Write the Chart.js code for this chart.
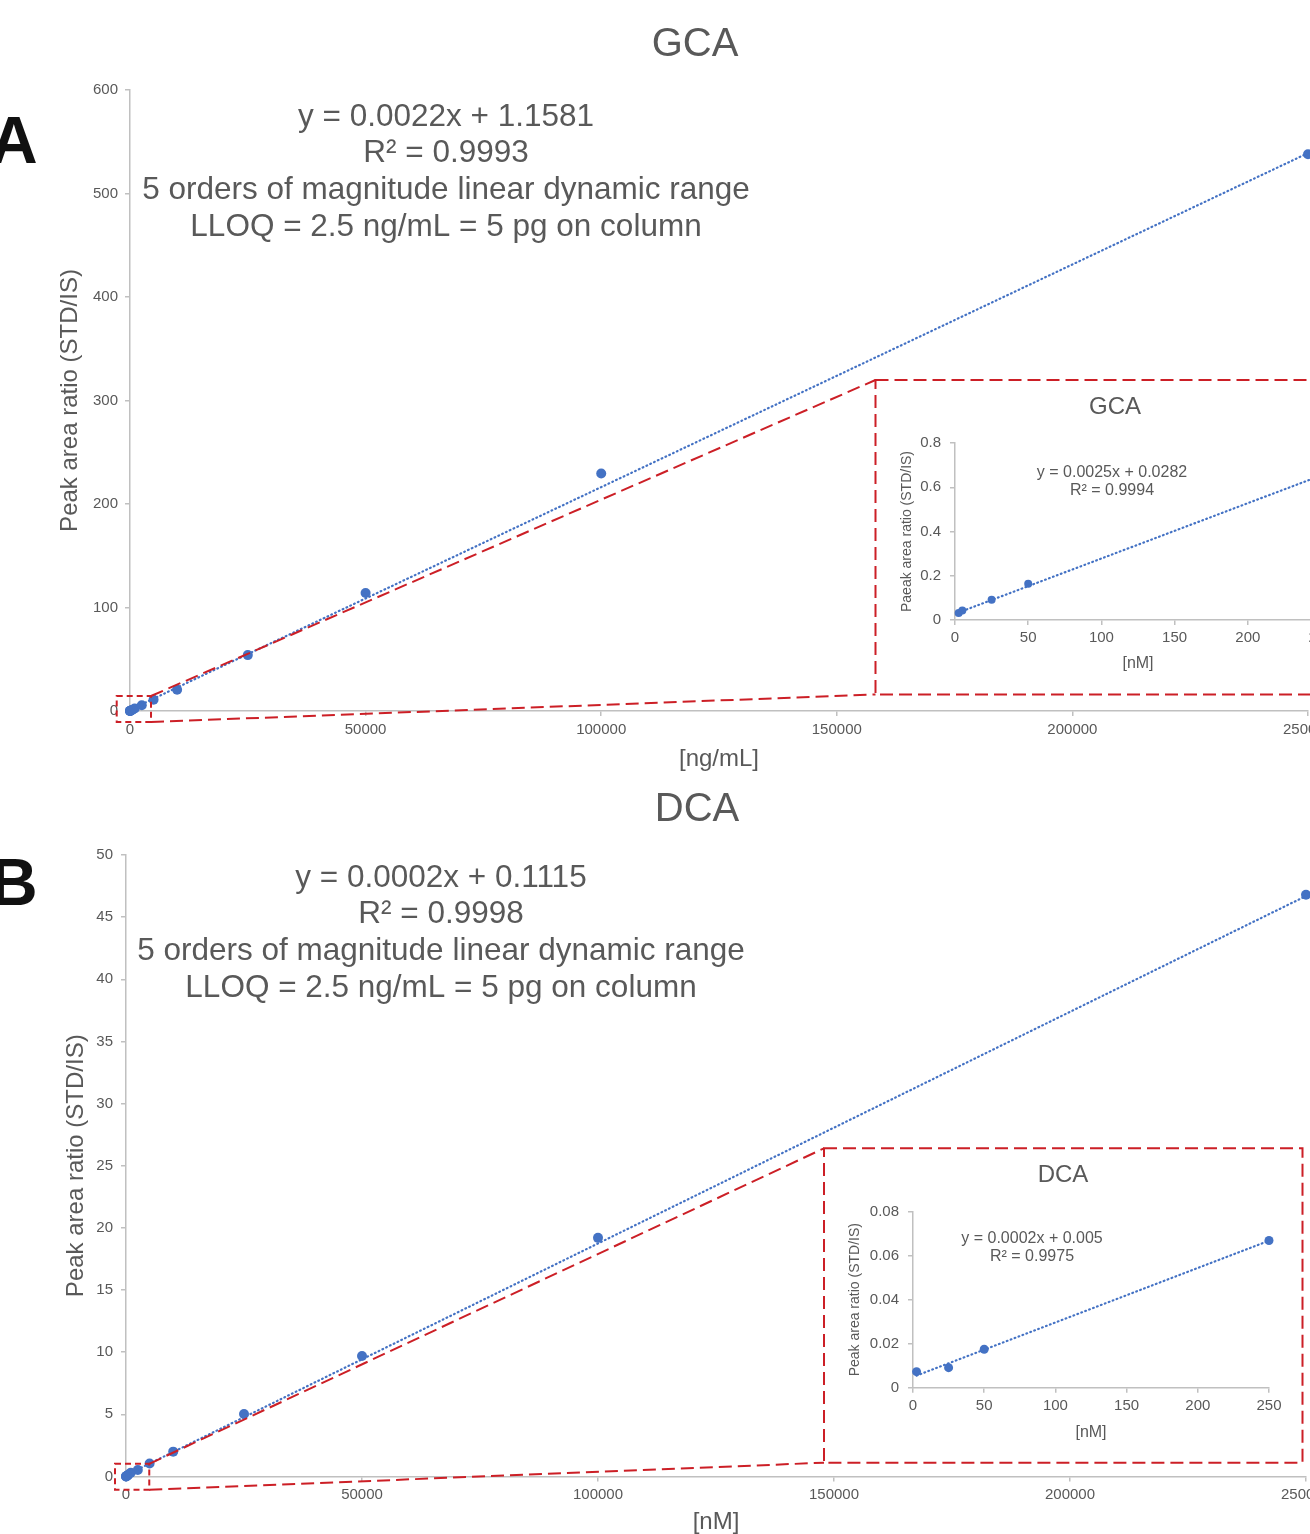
<!DOCTYPE html>
<html lang="en">
<head>
<meta charset="UTF-8">
<title>GCA / DCA calibration curves</title>
<script src="https://cdn.jsdelivr.net/npm/chart.js"></script>
<style>
  html, body { margin: 0; padding: 0; background: #fff; overflow: hidden; }
  body { position: relative; width: 1310px; height: 1534px; }
  .box { position: absolute; }
</style>
</head>
<body>
<div class="box" style="left:0;top:0;width:1390px;height:780px"><canvas id="gcaMain"></canvas></div>
<div class="box" style="left:877px;top:382px;width:476px;height:311px"><canvas id="gcaInset"></canvas></div>
<div class="box" style="left:0;top:780px;width:1394px;height:780px"><canvas id="dcaMain"></canvas></div>
<div class="box" style="left:826px;top:1150px;width:474px;height:311px"><canvas id="dcaInset"></canvas></div>
<script>
// ---- data ----
const gcaConc  = [2.5, 5, 25, 50, 250, 500, 1000, 2500, 5000, 10000, 25000, 50000, 100000, 250000]; // ng/mL
const gcaRatio = [0.032, 0.043, 0.091, 0.164, 0.6, 1.3, 2.4, 5.5, 10.8, 20.5, 54, 114, 229.5, 538];
const gcaTrendX = [2.5, 250000];
const gcaTrendY = [1.16, 539];
const gcaXTicks = [0, 50000, 100000, 150000, 200000, 250000];
const gcaYTicks = [0, 100, 200, 300, 400, 500, 600];

const gcaInsetConc  = [2.5, 5, 25, 50]; // nM
const gcaInsetRatio = [0.032, 0.043, 0.091, 0.164];
const gcaInsetTrendX = [2.5, 250];
const gcaInsetTrendY = [0.034, 0.653];
const gcaInsetXTicks = [0, 50, 100, 150, 200, 250];
const gcaInsetYTicks = [0, 0.2, 0.4, 0.6, 0.8];

const dcaConc  = [2.5, 25, 50, 250, 500, 1000, 2500, 5000, 10000, 25000, 50000, 100000, 250000]; // nM
const dcaRatio = [0.0073, 0.0091, 0.0175, 0.067, 0.15, 0.3, 0.52, 1.05, 2.0, 5.03, 9.7, 19.2, 46.8];
const dcaTrendX = [2.5, 250000];
const dcaTrendY = [0.11, 46.7];
const dcaXTicks = [0, 50000, 100000, 150000, 200000, 250000];
const dcaYTicks = [0, 5, 10, 15, 20, 25, 30, 35, 40, 45, 50];

const dcaInsetConc  = [2.5, 25, 50, 250];
const dcaInsetRatio = [0.0073, 0.0091, 0.0175, 0.0669];
const dcaInsetTrendX = [2.5, 250];
const dcaInsetTrendY = [0.0055, 0.0668];
const dcaInsetXTicks = [0, 50, 100, 150, 200, 250];
const dcaInsetYTicks = [0, 0.02, 0.04, 0.06, 0.08];

const gcaMainNotes = ['y = 0.0022x + 1.1581', 'R² = 0.9993', '5 orders of magnitude linear dynamic range', 'LLOQ = 2.5 ng/mL = 5 pg on column'];
const dcaMainNotes = ['y = 0.0002x + 0.1115', 'R² = 0.9998', '5 orders of magnitude linear dynamic range', 'LLOQ = 2.5 ng/mL = 5 pg on column'];
const gcaInsetNotes = ['y = 0.0025x + 0.0282', 'R² = 0.9994'];
const dcaInsetNotes = ['y = 0.0002x + 0.005', 'R² = 0.9975'];

// ---- styling ----
const FONT = '"Liberation Sans", Arial, Helvetica, sans-serif';
const GREY = '#595959';
const AXIS = '#c0c0c0';
const BLUE = '#4472C4';
const RED = '#cc1f26';
Chart.defaults.font.family = FONT;
Chart.defaults.color = GREY;

const pts = (xs, ys) => xs.map((x, i) => ({ x: x, y: ys[i] }));
const fmt = v => String(Math.round(v * 1000) / 1000);

// text boxes (titles, equations, panel letters)
function notesPlugin(items) {
  return {
    id: 'notes',
    afterDraw(chart) {
      const ctx = chart.ctx;
      ctx.save();
      items.forEach(it => {
        ctx.font = it.font;
        ctx.fillStyle = it.color || GREY;
        ctx.textAlign = it.align || 'center';
        ctx.textBaseline = it.baseline || 'middle';
        it.lines.forEach((t, i) => ctx.fillText(t, it.x, it.y + i * (it.step || 0)));
      });
      ctx.restore();
    }
  };
}

// red dashed zoom box near the origin + connectors to the inset frame
function zoomPlugin(box, frame) {
  return {
    id: 'zoomMarks',
    afterDatasetsDraw(chart) {
      const { ctx, scales: { x, y } } = chart;
      const x0 = x.getPixelForValue(box.x[0]), x1 = x.getPixelForValue(box.x[1]);
      const yt = y.getPixelForValue(box.y[1]), yb = y.getPixelForValue(box.y[0]);
      ctx.save();
      ctx.strokeStyle = RED;
      ctx.lineWidth = 2;
      ctx.setLineDash([6, 4]);
      ctx.strokeRect(x0, yt, x1 - x0, yb - yt);
      ctx.setLineDash([13, 6]);
      ctx.beginPath();
      ctx.moveTo(x1, yt); ctx.lineTo(frame.left, frame.top);
      ctx.moveTo(x1, yb); ctx.lineTo(frame.left, frame.bottom);
      ctx.stroke();
      ctx.strokeRect(frame.left, frame.top, frame.right - frame.left, frame.bottom - frame.top);
      ctx.restore();
    }
  };
}

function axis(ticks, o) {
  return {
    type: 'linear',
    min: ticks[0],
    max: ticks[ticks.length - 1],
    afterBuildTicks: s => { s.ticks = ticks.map(v => ({ value: v })); },
    afterFit: s => { if (o.width) s.width = o.width; if (o.height) s.height = o.height; },
    ticks: { color: GREY, font: { size: o.tickSize }, padding: o.tickPad, callback: fmt, maxRotation: 0, autoSkip: false },
    grid: { display: true, drawOnChartArea: false, drawTicks: true, tickLength: 5, color: AXIS, lineWidth: 1.5 },
    border: { display: true, color: AXIS, width: 1.5 },
    title: { display: true, text: o.title, color: GREY, font: { size: o.titleSize }, padding: o.titlePad }
  };
}

function makeChart(id, cfg) {
  return new Chart(document.getElementById(id), {
    type: 'scatter',
    data: {
      datasets: [
        { data: pts(cfg.tx, cfg.ty), showLine: true, pointRadius: 0, borderColor: BLUE, borderWidth: 2.2,
          borderDash: [0.8, 3.4], borderCapStyle: 'round', fill: false, order: 0, clip: false },
        { data: pts(cfg.px, cfg.py), pointRadius: cfg.r, pointHoverRadius: cfg.r, backgroundColor: BLUE,
          borderWidth: 0, order: 1, clip: false }
      ]
    },
    options: {
      responsive: true,
      maintainAspectRatio: false,
      animation: false,
      events: [],
      layout: { padding: cfg.padding },
      plugins: { legend: { display: false }, tooltip: { enabled: false } },
      scales: { x: cfg.x, y: cfg.y }
    },
    plugins: cfg.plugins
  });
}

// ---- A: GCA ----
makeChart('gcaMain', {
  px: gcaConc, py: gcaRatio, tx: gcaTrendX, ty: gcaTrendY, r: 5,
  padding: { left: 0, right: 82, top: 90, bottom: 0 },
  x: axis(gcaXTicks, { height: 69, tickSize: 15, tickPad: 5, title: '[ng/mL]', titleSize: 24, titlePad: { top: 0, bottom: 6.6 } }),
  y: axis(gcaYTicks, { width: 130, tickSize: 15, tickPad: 7, title: 'Peak area ratio (STD/IS)', titleSize: 24, titlePad: { top: 55.6, bottom: 0 } }),
  plugins: [
    zoomPlugin({ x: [-2820, 4460], y: [-10.6, 14.5] }, { left: 875.5, top: 380, right: 1430, bottom: 694.5 }),
    notesPlugin([
      { lines: ['GCA'], x: 695, y: 45, font: '40px ' + FONT },
      { lines: gcaMainNotes, x: 446, y: 117, step: 36.7, font: '31.5px ' + FONT },
      { lines: ['A'], x: -10, y: 163, font: 'bold 66px ' + FONT, color: '#111', align: 'left', baseline: 'alphabetic' }
    ])
  ]
});

makeChart('gcaInset', {
  px: gcaInsetConc, py: gcaInsetRatio, tx: gcaInsetTrendX, ty: gcaInsetTrendY, r: 4,
  padding: { left: 0, right: 32, top: 61, bottom: 0 },
  x: axis(gcaInsetXTicks, { height: 73, tickSize: 15, tickPad: 4, title: '[nM]', titleSize: 16, titlePad: { top: 0, bottom: 19.4 } }),
  y: axis(gcaInsetYTicks, { width: 78, tickSize: 15, tickPad: 9, title: 'Paeak area ratio (STD/IS)', titleSize: 14, titlePad: { top: 21.3, bottom: 0 } }),
  plugins: [notesPlugin([
    { lines: ['GCA'], x: 238, y: 25, font: '24px ' + FONT },
    { lines: gcaInsetNotes, x: 235, y: 91, step: 18, font: '16px ' + FONT }
  ])]
});

// ---- B: DCA ----
makeChart('dcaMain', {
  px: dcaConc, py: dcaRatio, tx: dcaTrendX, ty: dcaTrendY, r: 5,
  padding: { left: 0, right: 88, top: 75, bottom: 0 },
  x: axis(dcaXTicks, { height: 83.5, tickSize: 15, tickPad: 4.5, title: '[nM]', titleSize: 24, titlePad: { top: 0, bottom: 23.6 } }),
  y: axis(dcaYTicks, { width: 126, tickSize: 15, tickPad: 8, title: 'Peak area ratio (STD/IS)', titleSize: 24, titlePad: { top: 61.6, bottom: 0 } }),
  plugins: [
    zoomPlugin({ x: [-2330, 4930], y: [-1.07, 1.02] }, { left: 824, top: 368.3, right: 1302.5, bottom: 682.7 }),
    notesPlugin([
      { lines: ['DCA'], x: 697, y: 30, font: '40px ' + FONT },
      { lines: dcaMainNotes, x: 441, y: 98, step: 36.7, font: '31.5px ' + FONT },
      { lines: ['B'], x: -10, y: 125, font: 'bold 66px ' + FONT, color: '#111', align: 'left', baseline: 'alphabetic' }
    ])
  ]
});

makeChart('dcaInset', {
  px: dcaInsetConc, py: dcaInsetRatio, tx: dcaInsetTrendX, ty: dcaInsetTrendY, r: 4.5,
  padding: { left: 0, right: 31, top: 61.7, bottom: 0 },
  x: axis(dcaInsetXTicks, { height: 73.3, tickSize: 15, tickPad: 4, title: '[nM]', titleSize: 16, titlePad: { top: 0, bottom: 18.4 } }),
  y: axis(dcaInsetYTicks, { width: 87, tickSize: 15, tickPad: 9, title: 'Peak area ratio (STD/IS)', titleSize: 14, titlePad: { top: 20.6, bottom: 0 } }),
  plugins: [notesPlugin([
    { lines: ['DCA'], x: 237, y: 25, font: '24px ' + FONT },
    { lines: dcaInsetNotes, x: 206, y: 89, step: 18, font: '16px ' + FONT }
  ])]
});
</script>
</body>
</html>
